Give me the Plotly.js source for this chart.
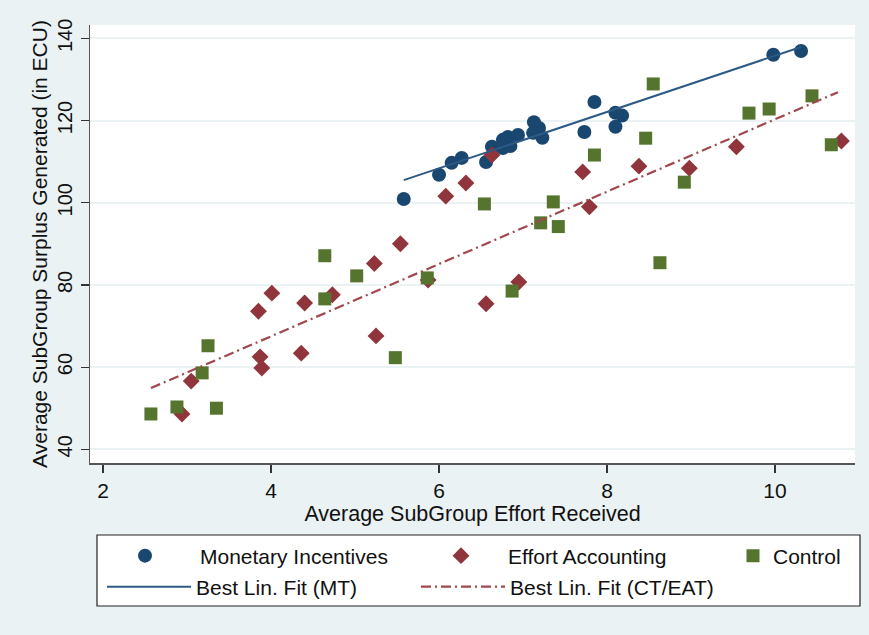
<!DOCTYPE html>
<html>
<head>
<meta charset="utf-8">
<script src="https://cdn.plot.ly/plotly-3.0.1.min.js"></script>
<style>html,body{margin:0;padding:0;background:#eaf2f3;}#chart{width:869px;height:635px;}</style>
</head>
<body>
<div id="chart"></div>
<script>
// Monetary Incentives (blue circles)
const miX = [5.58, 6.00, 6.15, 6.27, 6.56, 6.63, 6.76, 6.82, 6.76, 6.85, 6.94, 7.13, 7.19, 7.12, 7.23, 7.73, 7.85, 8.10, 8.18, 8.10, 9.98, 10.31];
const miY = [100.9, 106.8, 109.7, 110.9, 109.9, 113.6, 115.3, 116.0, 113.3, 113.8, 116.5, 119.6, 118.2, 117.0, 115.8, 117.2, 124.5, 121.9, 121.2, 118.5, 136.0, 136.9];

// Effort Accounting (red diamonds)
const eaX = [2.94, 3.05, 3.85, 4.01, 3.87, 3.89, 4.40, 4.36, 4.73, 5.23, 5.54, 5.25, 5.87, 6.08, 6.32, 6.63, 6.56, 6.95, 7.71, 7.79, 8.38, 8.98, 9.54, 10.79];
const eaY = [48.6, 56.6, 73.6, 78.0, 62.5, 59.8, 75.6, 63.4, 77.6, 85.2, 90.0, 67.6, 81.2, 101.6, 104.8, 111.6, 75.4, 80.7, 107.5, 99.0, 108.9, 108.4, 113.6, 115.0];

// Control (green squares)
const ctX = [2.57, 2.88, 3.35, 3.18, 3.25, 4.64, 4.64, 5.02, 5.48, 5.86, 6.54, 6.87, 7.21, 7.42, 7.36, 7.85, 8.55, 8.46, 8.92, 8.63, 9.69, 9.93, 10.44, 10.67];
const ctY = [48.6, 50.3, 50.0, 58.6, 65.2, 87.1, 76.6, 82.2, 62.3, 81.7, 99.7, 78.5, 95.1, 94.2, 100.2, 111.6, 128.9, 115.7, 105.0, 85.4, 121.8, 122.8, 126.0, 114.1];

// Best linear fits (endpoints)
const fitMTX = [5.58, 10.31];
const fitMTY = [105.5, 137.9];
const fitCTX = [2.57, 10.75];
const fitCTY = [54.9, 126.9];

const xTicks = [2, 4, 6, 8, 10];
const yTicks = [40, 60, 80, 100, 120, 140];

const FONT = "Liberation Sans, Arial, sans-serif";
const BLUE = "#1a476f", RED = "#90353b", GREEN = "#55752f";

const traces = [
  {x: miX, y: miY, type: "scatter", mode: "markers", name: "Monetary Incentives",
   marker: {symbol: "circle", size: 14, color: BLUE}, legend: "legend"},
  {x: eaX, y: eaY, type: "scatter", mode: "markers", name: "Effort Accounting",
   marker: {symbol: "diamond", size: 13, color: RED}, legend: "legend2"},
  {x: ctX, y: ctY, type: "scatter", mode: "markers", name: "Control",
   marker: {symbol: "square", size: 13, color: GREEN}, legend: "legend3"},
  {x: fitMTX, y: fitMTY, type: "scatter", mode: "lines", name: "Best Lin. Fit (MT)",
   line: {color: "#2c5a85", width: 2}, legend: "legend4"},
  {x: fitCTX, y: fitCTY, type: "scatter", mode: "lines", name: "Best Lin. Fit (CT/EAT)",
   line: {color: "#a0484d", width: 2.2, dash: "10px,4px,2px,4px"}, legend: "legend5"}
];

const P0 = 90, P1 = 855, T0 = 25, B0 = 463;
const px = v => (v - P0) / (P1 - P0);
const py = v => (B0 - v) / (B0 - T0);

function leg(x, y, w) {
  return {orientation: "h", bgcolor: "rgba(0,0,0,0)", borderwidth: 0,
    font: {family: FONT, size: 21, color: "#111"}, xanchor: "left", yanchor: "middle",
    itemwidth: w, x: px(x), y: py(y)};
}

const layout = {
  width: 869, height: 635,
  paper_bgcolor: "#eaf2f3", plot_bgcolor: "#ffffff",
  margin: {l: P0, r: 869 - P1, t: T0, b: 635 - B0, pad: 0, autoexpand: false},
  font: {family: FONT, color: "#111"},
  showlegend: true,
  xaxis: {range: [1.845, 10.952], tickvals: xTicks, ticktext: xTicks.map(String),
    ticks: "outside", ticklen: 8, tickcolor: "#333", tickwidth: 1.2,
    showgrid: false, zeroline: false, showline: true, linecolor: "#555", linewidth: 1.5,
    tickfont: {family: FONT, size: 21, color: "#111"},
    title: {text: "Average SubGroup Effort Received", font: {family: FONT, size: 21.5, color: "#111"}, standoff: 3}},
  yaxis: {range: [36.67, 143.24], tickvals: yTicks, ticktext: yTicks.map(String),
    ticks: "outside", ticklen: 8, tickcolor: "#333", tickwidth: 1.2, tickangle: -90,
    ticklabelstandoff: 1,
    showgrid: true, gridcolor: "#eaf2f3", gridwidth: 2, zeroline: false,
    showline: true, linecolor: "#555", linewidth: 1.5,
    tickfont: {family: FONT, size: 20, color: "#111"},
    title: {text: "Average SubGroup Surplus Generated (in ECU)", font: {family: FONT, size: 21, color: "#111"}, standoff: 0}},
  legend: leg(90, 556, 100),
  legend2: leg(414, 556, 84),
  legend3: leg(733, 556, 30),
  legend4: leg(102, 587, 84),
  legend5: leg(416, 587, 84),
  shapes: [{type: "rect", xref: "paper", yref: "paper",
    x0: px(97), x1: px(860), y0: py(606), y1: py(535),
    fillcolor: "#ffffff", line: {color: "#222", width: 1.2}, layer: "below"}]
};

Plotly.newPlot("chart", traces, layout, {displayModeBar: false, staticPlot: true});
</script>
</body>
</html>
